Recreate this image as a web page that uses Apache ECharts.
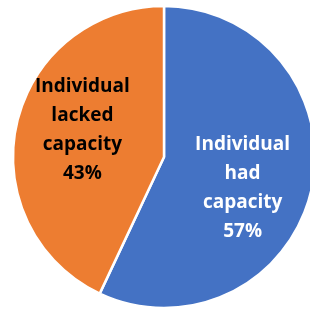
<!DOCTYPE html>
<html>
<head>
<meta charset="UTF-8">
<script src="https://cdn.jsdelivr.net/npm/echarts@6/dist/echarts.min.js"></script>
<style>
  html, body { margin: 0; padding: 0; background: #fff; }
  #main { width: 310px; height: 310px; }
</style>
</head>
<body>
<div id="main"></div>
<script>
    // slices, clockwise from 12 o'clock
    var names = ['Individual\nhad\ncapacity', 'Individual\nlacked\ncapacity'];
    var values = [57, 43];
    var colors = ['#4472C4', '#ED7D31'];
    var labelColors = ['#ffffff', '#000000'];
    // nudge labels to where the original puts them
    var labelShift = [[2, 14], [-5, -10]];

    var chart = echarts.init(document.getElementById('main'));
    var data = [];
    for (var i = 0; i < names.length; i++) {
        data.push({
            name: names[i],
            value: values[i],
            itemStyle: {color: colors[i]},
            label: {color: labelColors[i]}
        });
    }

    chart.setOption({
        animation: false,
        series: [{
            type: 'pie',
            center: [164, 157],
            radius: 151,
            startAngle: 90,
            clockwise: true,
            itemStyle: {borderColor: '#fff', borderWidth: 2.5},
            label: {
                show: true,
                position: 'inside',
                formatter: '{b}\n{c}%',
                fontFamily: 'Open Sans',
                fontWeight: 'bold',
                fontSize: 19,
                lineHeight: 29,
                align: 'center'
            },
            labelLine: {show: false},
            labelLayout: function (p) {
                var s = labelShift[p.dataIndex];
                return {dx: s[0], dy: s[1]};
            },
            data: data
        }]
    });
</script>
</body>
</html>
